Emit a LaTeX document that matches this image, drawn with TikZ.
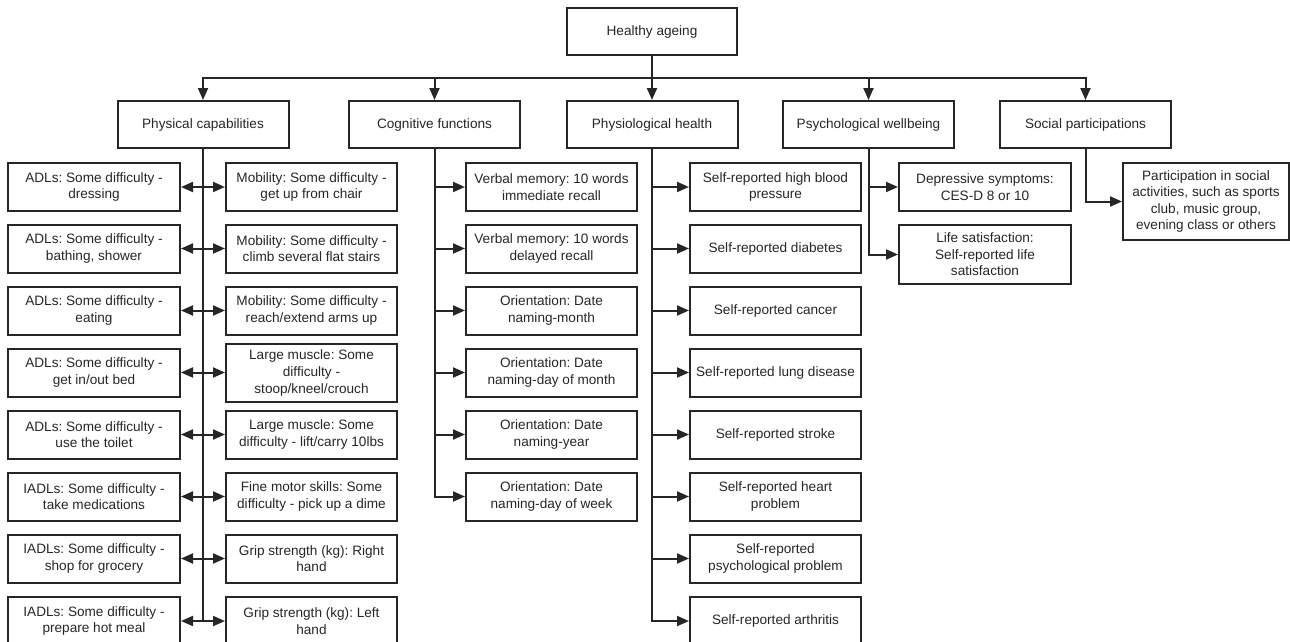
\documentclass[tikz,border=0pt]{standalone}
\usepackage{fontspec}
\setmainfont{Liberation Sans}
\usetikzlibrary{arrows.meta}
\definecolor{ink}{HTML}{262626}
\frenchspacing
\begin{document}
\begin{tikzpicture}[x=1pt,y=-1pt,
  box/.style={draw=ink,line width=2pt,rectangle,align=center,inner sep=2pt,
    font=\fontsize{13.6}{16.6}\selectfont,text=ink},
  wbox/.style={box,minimum width=171pt,minimum height=47pt},
  arr/.style={draw=ink,line width=2pt,-{Triangle[length=12pt,width=10pt]}},
  ln/.style={draw=ink,line width=2pt}]
\useasboundingbox (0,0) rectangle (1290,642);
\clip (0,0) rectangle (1290,642);
% top
\node[wbox,minimum width=170pt] (ha) at (652,31.5) {Healthy ageing};
\node[wbox] (phys) at (203,124.5) {Physical capabilities};
\node[wbox] (cog) at (434.5,124.5) {Cognitive functions};
\node[wbox] (physio) at (652,124.5) {Physiological health};
\node[wbox] (psych) at (868.5,124.5) {Psychological wellbeing};
\node[wbox] (soc) at (1085.5,124.5) {Social participations};
\coordinate (bus) at (652,78);
\draw[arr] (ha.south) -- (physio.north);
\draw[arr] (bus) -| (phys.north);
\draw[arr] (bus) -| (cog.north);
\draw[arr] (bus) -| (psych.north);
\draw[arr] (bus) -| (soc.north);
% physical capabilities
\node[wbox,minimum width=172pt,minimum height=48pt] (L1) at (94,187) {ADLs: Some difficulty -\\dressing};
\node[wbox,minimum width=172pt,minimum height=48pt] (L2) at (94,248.5) {ADLs: Some difficulty -\\bathing, shower};
\node[wbox,minimum width=172pt,minimum height=48pt] (L3) at (94,310.5) {ADLs: Some difficulty -\\eating};
\node[wbox,minimum width=172pt,minimum height=48pt] (L4) at (94,372.5) {ADLs: Some difficulty -\\get in/out bed};
\node[wbox,minimum width=172pt,minimum height=48pt] (L5) at (94,434.5) {ADLs: Some difficulty -\\use the toilet};
\node[wbox,minimum width=172pt,minimum height=48pt] (L6) at (94,496.5) {IADLs: Some difficulty -\\take medications};
\node[wbox,minimum width=172pt,minimum height=48pt] (L7) at (94,558.5) {IADLs: Some difficulty -\\shop for grocery};
\node[wbox,minimum width=172pt,minimum height=48pt] (L8) at (94,621) {IADLs: Some difficulty -\\prepare hot meal};
\node[wbox,minimum height=48pt] (R1) at (311.5,187) {Mobility: Some difficulty -\\get up from chair};
\node[wbox,minimum height=48pt] (R2) at (311.5,248.5) {Mobility: Some difficulty -\\climb several flat stairs};
\node[wbox,minimum height=48pt] (R3) at (311.5,310.5) {Mobility: Some difficulty -\\reach/extend arms up};
\node[wbox,minimum height=58pt] (R4) at (311.5,373) {Large muscle: Some\\difficulty -\\stoop/kneel/crouch};
\node[wbox,minimum height=48pt] (R5) at (311.5,434.5) {Large muscle: Some\\difficulty - lift/carry 10lbs};
\node[wbox,minimum height=48pt] (R6) at (311.5,496.5) {Fine motor skills: Some\\difficulty - pick up a dime};
\node[wbox,minimum height=48pt] (R7) at (311.5,558.5) {Grip strength (kg): Right\\hand};
\node[wbox,minimum height=48pt] (R8) at (311.5,621) {Grip strength (kg): Left\\hand};
\draw[ln] (phys.south) -- (phys.south |- L8.east);
\foreach \i in {1,...,8}{
  \draw[arr] (phys.south |- L\i.east) -- (L\i.east);
  \draw[arr] (phys.south |- L\i.east) -- (R\i.west |- L\i.east);
}
% cognitive
\node[wbox,minimum height=48pt] (C1) at (551.5,187) {Verbal memory: 10 words\\immediate recall};
\node[wbox,minimum height=48pt] (C2) at (551.5,248.5) {Verbal memory: 10 words\\delayed recall};
\node[wbox,minimum height=48pt] (C3) at (551.5,310.5) {Orientation: Date\\naming-month};
\node[wbox,minimum height=48pt] (C4) at (551.5,372.5) {Orientation: Date\\naming-day of month};
\node[wbox,minimum height=48pt] (C5) at (551.5,434.5) {Orientation: Date\\naming-year};
\node[wbox,minimum height=48pt] (C6) at (551.5,496.5) {Orientation: Date\\naming-day of week};
\draw[arr] (cog.south) |- (C6.west);
\foreach \i in {1,...,5}{\draw[arr] (cog.south |- C\i.west) -- (C\i.west);}
% physiological
\node[wbox,minimum height=48pt] (P1) at (775.5,187) {Self-reported high blood\\pressure};
\node[wbox,minimum height=48pt] (P2) at (775.5,248.5) {Self-reported diabetes};
\node[wbox,minimum height=48pt] (P3) at (775.5,310.5) {Self-reported cancer};
\node[wbox,minimum height=48pt] (P4) at (775.5,372.5) {Self-reported lung disease};
\node[wbox,minimum height=48pt] (P5) at (775.5,434.5) {Self-reported stroke};
\node[wbox,minimum height=48pt] (P6) at (775.5,496.5) {Self-reported heart\\problem};
\node[wbox,minimum height=48pt] (P7) at (775.5,558.5) {Self-reported\\psychological problem};
\node[wbox,minimum height=48pt] (P8) at (775.5,621) {Self-reported arthritis};
\draw[arr] (physio.south) |- (P8.west);
\foreach \i in {1,...,7}{\draw[arr] (physio.south |- P\i.west) -- (P\i.west);}
% psychological
\node[wbox,minimum width=172pt,minimum height=48pt] (Y1) at (985,187) {Depressive symptoms:\\CES-D 8 or 10};
\node[wbox,minimum width=172pt,minimum height=59pt] (Y2) at (985,254.5) {Life satisfaction:\\Self-reported life\\satisfaction};
\draw[arr] (psych.south) |- (Y2.west);
\draw[arr] (psych.south |- Y1.west) -- (Y1.west);
% social
\node[wbox,minimum width=166pt,minimum height=77pt] (S1) at (1206,201.5) {Participation in social\\activities, such as sports\\club, music group,\\evening class or others};
\draw[arr] (soc.south) |- (S1.west);
\end{tikzpicture}
\end{document}
